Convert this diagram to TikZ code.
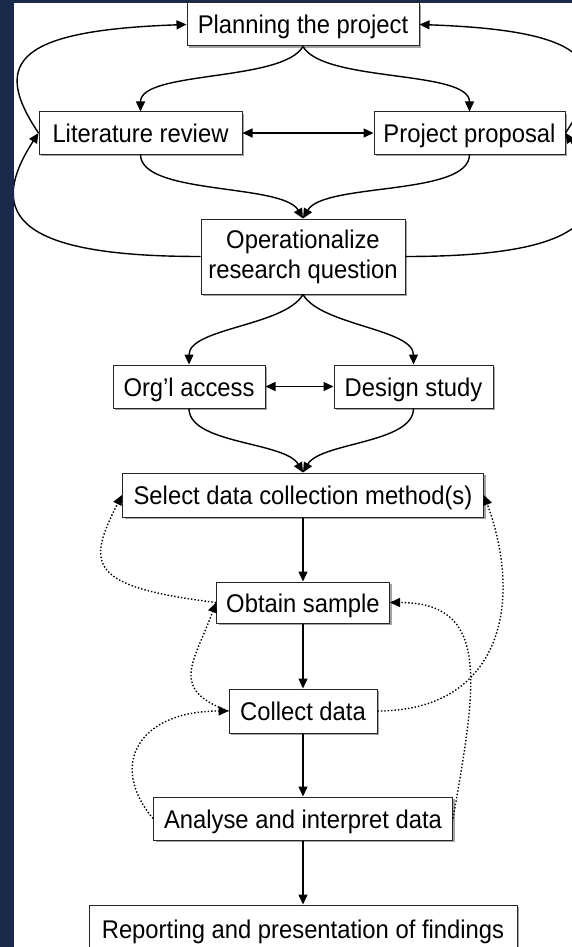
\documentclass[tikz,border=0pt]{standalone}
\usepackage{fontspec}
\setmainfont{Liberation Sans}[FakeStretch=0.93]
\usetikzlibrary{arrows.meta,shadows}
\definecolor{navy}{HTML}{1A2A4A}

\begin{document}
\begin{tikzpicture}[x=0.5pt,y=0.5pt,
    box/.style={draw=black!85, fill=white, line width=0.5pt, inner sep=0pt,
      font=\fontsize{12.8}{15}\selectfont, align=center,
      text height=9.5pt, text depth=0pt,
      drop shadow={shadow xshift=1pt, shadow yshift=-1pt, fill=black!45, opacity=0.8}},
    link/.style={line width=0.7pt, -{Triangle[length=5pt,width=4.5pt]}},
    both/.style={line width=0.7pt, {Triangle[length=5pt,width=4.5pt]}-{Triangle[length=5pt,width=4.5pt]}},
    back/.style={link, densely dotted}]
  \def\midx{303};
  \useasboundingbox (0,0) rectangle (572,-947);
  \fill[navy] (0,0) rectangle (572,-947);
  \fill[white] (14,-3) rectangle (572,-947);
  \clip (14,-3) rectangle (572,-947);
  % planning stage
  \node[box, minimum width=116pt, minimum height=21.5pt] (plan) at (\midx,-24.5) {Planning the project};
  \node[box, minimum width=101.5pt, minimum height=21pt] (lit) at (140.5,-133) {Literature review};
  \node[box, minimum width=95.5pt, minimum height=21pt] (prop) at (469.5,-133) {Project proposal};
  \node[box, minimum width=102pt, minimum height=37.5pt, text height=, text depth=] (oper) at (\midx,-256.5) {Operationalize\\research question};
  % access and design
  \node[box, minimum width=76pt, minimum height=21.5pt] (org) at (189,-386.5) {Org’l access};
  \node[box, minimum width=79.5pt, minimum height=21.5pt] (des) at (413.5,-386.5) {Design study};
  % data
  \node[box, minimum width=180.5pt, minimum height=22pt] (sel) at (\midx,-495) {Select data collection method(s)};
  \node[box, minimum width=86.5pt, minimum height=20.5pt] (obt) at (\midx,-602.5) {Obtain sample};
  \node[box, minimum width=74pt, minimum height=22pt] (col) at (\midx,-711) {Collect data};
  \node[box, minimum width=149.5pt, minimum height=21.5pt] (ana) at (\midx,-818.5) {Analyse and interpret data};
  \node[box, minimum width=214pt, minimum height=24pt] (rep) at (\midx,-929) {Reporting and presentation of findings};

  % top loop
  \draw[link] (plan.south) to[out=-120,in=90,looseness=0.6] (lit.north);
  \draw[link] (plan.south) to[out=-60,in=90,looseness=0.6] (prop.north);
  \draw[link] (lit.south) to[out=-90,in=120,looseness=0.6] (oper.north);
  \draw[link] (prop.south) to[out=-90,in=60,looseness=0.6] (oper.north);
  \draw[both] (lit) -- (prop);
  \draw[link] (lit.west) to[out=124,in=182,out distance=44pt,in distance=83pt] (plan.west);
  \draw[link] (oper.west) to[out=180,in=-123,out distance=90pt,in distance=50pt] (lit.west);
  \draw[link] (prop.east) to[out=56,in=-2,out distance=44pt,in distance=83pt] (plan.east);
  \draw[link] (oper.east) to[out=0,in=-57,out distance=90pt,in distance=50pt] (prop.east);
  % second split
  \draw[link] (oper.south) to[out=-120,in=90,looseness=0.7] (org.north);
  \draw[link] (oper.south) to[out=-60,in=90,looseness=0.7] (des.north);
  \draw[link] (org.south) to[out=-90,in=120,looseness=0.7] (sel.north);
  \draw[link] (des.south) to[out=-90,in=60,looseness=0.7] (sel.north);
  \draw[both] (org) -- (des);
  % main chain
  \foreach \a/\b in {sel/obt, obt/col, col/ana, ana/rep} {
      \draw[link] (\a.south) -- (\b.north);
  }
  % feedback
  \draw[back] (obt.west) to[out=173,in=-117,out distance=65pt,in distance=39pt] (sel.west);
  \draw[back] (col.west) to[out=160,in=-110,looseness=1.5] (obt.west);
  \draw[back] (ana.west) to[out=130,in=180,out distance=35pt,in distance=45pt] (col.west);
  \draw[back] (col.east) to[out=0,in=-70,out distance=60pt,in distance=60pt] (sel.east);
  \draw[back] (ana.east) to[out=80,in=0,out distance=70pt,in distance=50pt] (obt.east);
\end{tikzpicture}
\end{document}
